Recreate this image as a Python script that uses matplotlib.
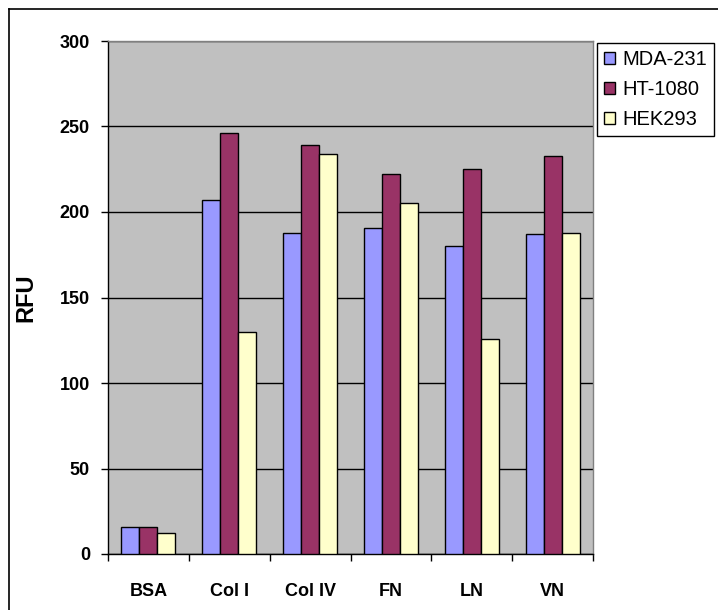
import numpy as np
import matplotlib.pyplot as plt
from matplotlib.lines import Line2D
from matplotlib.patches import Patch

categories = ["BSA", "Col I", "Col IV", "FN", "LN", "VN"]
series_names = ["MDA-231", "HT-1080", "HEK293"]
mda231 = [16, 207, 188, 190.5, 180, 187]
ht1080 = [16, 246, 239, 222, 225, 233]
hek293 = [12.5, 130, 234, 205, 126, 188]
colors = ["#9999FF", "#993366", "#FFFFCC"]

plt.rcParams['font.family'] = ['Liberation Sans', 'DejaVu Sans']

fig = plt.figure(figsize=(7.18, 6.10), dpi=100)
ax = fig.add_axes([108 / 718, 1 - 554 / 610, 485 / 718, 513 / 610])
ax.set_facecolor("#C0C0C0")

x = np.arange(len(categories))
w = 0.222
for i, vals in enumerate([mda231, ht1080, hek293]):
    ax.bar(x + (i - 1) * w, vals, width=w, color=colors[i],
           edgecolor="black", linewidth=1.0, zorder=3)

ax.set_xlim(-0.5, len(categories) - 0.5)
ax.set_ylim(0, 300)
ax.set_yticks(np.arange(0, 301, 50))
ax.yaxis.grid(True, color="black", linewidth=1.0, zorder=1)
ax.set_axisbelow(True)

# category labels centred, ticks on the group boundaries
ax.set_xticks(x)
ax.set_xticklabels(categories, fontsize=13, fontweight="bold")
ax.set_xticks(np.arange(-0.5, len(categories), 1), minor=True)
ax.tick_params(axis="x", which="major", length=0, pad=21)
ax.tick_params(axis="x", which="minor", length=5, width=1, direction="out")
ax.tick_params(axis="y", length=5, width=1, direction="out", pad=8, labelsize=13)
for lab in ax.get_yticklabels():
    lab.set_fontweight("bold")

ax.set_ylabel("RFU", fontsize=17, fontweight="bold")
ax.yaxis.set_label_coords(-0.146, 0.5)

for s in ["left", "bottom"]:
    ax.spines[s].set_color("black")
    ax.spines[s].set_linewidth(1.0)
for s in ["top", "right"]:
    ax.spines[s].set_color("#808080")
    ax.spines[s].set_linewidth(1.0)

handles = [Patch(facecolor=c, edgecolor="black", linewidth=1.0) for c in colors]
leg = fig.legend(handles, series_names, loc="upper left",
                 bbox_to_anchor=(597 / 718, 1 - 43 / 610), fontsize=14.5,
                 frameon=True, fancybox=False, framealpha=1,
                 handlelength=0.55, handleheight=0.55, handletextpad=0.35,
                 borderpad=0.35, labelspacing=0.55, borderaxespad=0)
leg.get_frame().set_edgecolor("black")
leg.get_frame().set_linewidth(1.0)

# outer chart border (cropped on the right and bottom)
fig.add_artist(Line2D([9 / 718, 1], [1 - 9 / 610, 1 - 9 / 610],
                      color="black", linewidth=1.2, transform=fig.transFigure))
fig.add_artist(Line2D([9 / 718, 9 / 718], [0, 1 - 9 / 610],
                      color="black", linewidth=1.2, transform=fig.transFigure))

fig.savefig("out.png", dpi=100)
